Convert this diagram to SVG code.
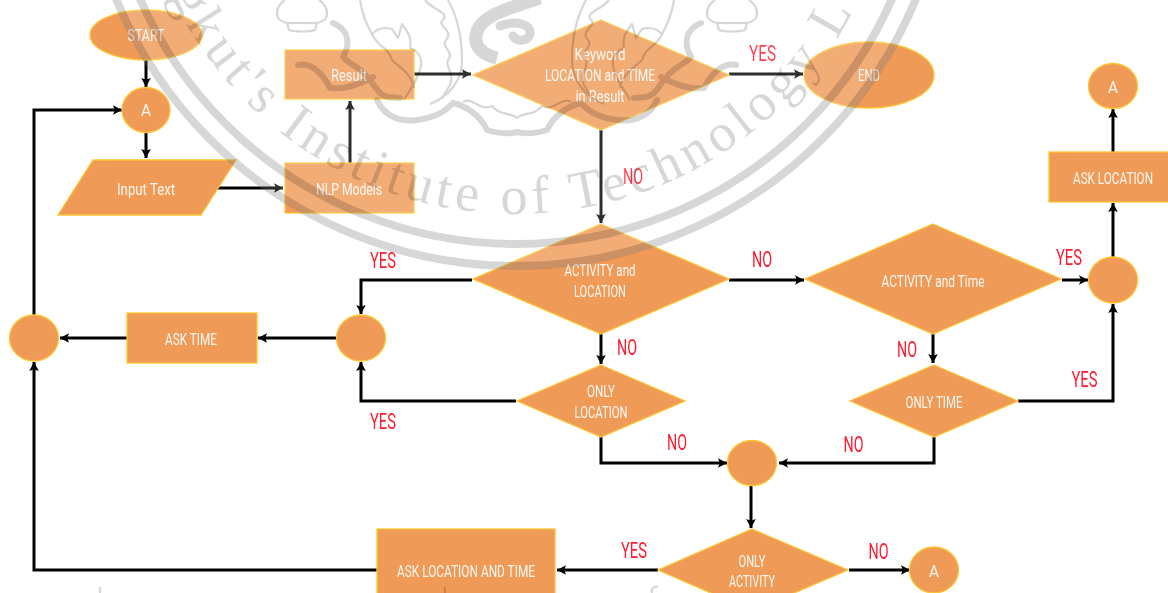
<svg xmlns="http://www.w3.org/2000/svg" width="1168" height="593" viewBox="0 0 1168 593">
<style>
.n{fill:#f09a58;stroke:#fcc531;stroke-width:1.3}
.t{font-family:"Roboto","Liberation Sans",sans-serif;font-size:16px;fill:#fff;fill-opacity:.93;text-anchor:middle}
.l{font-family:"Roboto","Liberation Sans",sans-serif;font-size:22.5px;fill:#ff1a2e;text-anchor:middle}
.c{fill:none;stroke:#000;stroke-width:3;marker-end:url(#a)}
.r{fill:none;stroke:#000;stroke-width:8}
.o{fill:none;stroke:#000;stroke-width:6;stroke-linecap:round;stroke-linejoin:round}
.h{fill:none;stroke:#000;stroke-width:2.2;stroke-linejoin:round}
</style>
<defs>
<marker id="a" markerUnits="userSpaceOnUse" markerWidth="12" markerHeight="12" refX="10" refY="6" orient="auto"><path d="M1 1.2L10 6L1 10.8L2.8 6Z" fill="#000"/></marker>
<path id="arc" d="M135 -167A381 381 0 0 0 897 -167"/>
<filter id="b" x="0" y="0" width="100%" height="100%"><feGaussianBlur stdDeviation=".45"/></filter>
<g id="half">
<path class="h" d="M285 0C279 4 277 9 277 14C277 19 282 22 287 23L289 30C296 32 310 32 315 30L317 23C322 22 327 19 327 14C327 9 325 4 319 0"/>
<path class="h" d="M287 23L317 23"/>
<path class="o" d="M298 65C310 62 322 72 330 88C345 90 360 84 373 77"/>
<path class="o" d="M333 23C350 30 350 45 343 57C350 65 362 68 368 78C376 86 378 95 388 97L400 98"/>
<path class="o" d="M377 100C385 118 402 122 417 120C435 118 445 112 453 103C466 106 480 115 487 130C500 134 510 134 517 132"/>
<path class="h" d="M360 0C362 12 366 24 372 34C376 30 382 26 392 29L398 38L402 24C408 32 412 38 410 48C420 52 425 60 418 75C414 86 408 92 404 100"/>
<path class="h" d="M372 34C378 48 388 46 392 60C400 68 412 74 414 88"/>
<path class="h" d="M425 0C432 10 450 12 443 20C436 26 455 30 446 40C440 46 455 52 448 60C445 68 455 72 450 85L442 98"/>
<path class="h" d="M448 0C458 18 462 40 462 60C462 80 450 96 430 104"/>
<path class="h" d="M463 102C472 96 480 112 492 106C500 116 510 112 517 118"/>
</g>
</defs>
<g filter="url(#b)">
<g id="connectors">
<path class="c" d="M146 60V87"/>
<path class="c" d="M146 132V158"/>
<path class="c" d="M34 315V110H122"/>
<path class="c" d="M218 188H283"/>
<path class="c" d="M350 163V101"/>
<path class="c" d="M414 74H471"/>
<path class="c" d="M729 74H803"/>
<path class="c" d="M601 130V223"/>
<path class="c" d="M729 280H804"/>
<path class="c" d="M1062 280H1088"/>
<path class="c" d="M1113 257V203"/>
<path class="c" d="M1113 152V109"/>
<path class="c" d="M1018 401H1113V304"/>
<path class="c" d="M933 334V363"/>
<path class="c" d="M934 437V463H779"/>
<path class="c" d="M601 437V463H727"/>
<path class="c" d="M601 334V364"/>
<path class="c" d="M472 280H361V314"/>
<path class="c" d="M516 401H361V362"/>
<path class="c" d="M337 338H258"/>
<path class="c" d="M127 338H60"/>
<path class="c" d="M377 570H34V362"/>
<path class="c" d="M658 570H557"/>
<path class="c" d="M751 485V528"/>
<path class="c" d="M849 570H910"/>
</g>
<g id="n-start"><ellipse class="n" cx="146" cy="35" rx="56" ry="25"/><text class="t" x="146" y="41" textLength="37" lengthAdjust="spacingAndGlyphs">START</text></g>
<g id="n-a1"><ellipse class="n" cx="146" cy="110" rx="24" ry="22.5"/><text class="t" x="146" y="116" textLength="10" lengthAdjust="spacingAndGlyphs">A</text></g>
<g id="n-input"><path class="n" d="M93 160H236L201 215H58Z"/><text class="t" x="146" y="195" textLength="58" lengthAdjust="spacingAndGlyphs">Input Text</text></g>
<g id="n-nlp"><rect class="n" x="285" y="163" width="129" height="50"/><text class="t" x="349" y="195" textLength="66" lengthAdjust="spacingAndGlyphs">NLP Models</text></g>
<g id="n-result"><rect class="n" x="285" y="50" width="129" height="49"/><text class="t" x="349" y="81" textLength="36" lengthAdjust="spacingAndGlyphs">Result</text></g>
<g id="n-keyword"><path class="n" d="M601 20L729 75L601 130L473 75Z"/><text class="t" x="600" y="60" textLength="51" lengthAdjust="spacingAndGlyphs">Keyword</text><text class="t" x="600" y="81" textLength="110" lengthAdjust="spacingAndGlyphs">LOCATION and TIME</text><text class="t" x="600" y="102" textLength="49" lengthAdjust="spacingAndGlyphs">in Result</text></g>
<g id="n-end"><ellipse class="n" cx="869" cy="75" rx="65" ry="33"/><text class="t" x="869" y="81" textLength="22" lengthAdjust="spacingAndGlyphs">END</text></g>
<g id="n-a2"><ellipse class="n" cx="1113" cy="86" rx="24.5" ry="22.5"/><text class="t" x="1113" y="93" textLength="10" lengthAdjust="spacingAndGlyphs">A</text></g>
<g id="n-asklocation"><rect class="n" x="1049" y="152" width="130" height="50"/><text class="t" x="1113" y="184" textLength="80" lengthAdjust="spacingAndGlyphs">ASK LOCATION</text></g>
<g id="n-activity-location"><path class="n" d="M601 224L729 279L601 334L473 279Z"/><text class="t" x="600" y="276" textLength="71" lengthAdjust="spacingAndGlyphs">ACTIVITY and</text><text class="t" x="600" y="297" textLength="52" lengthAdjust="spacingAndGlyphs">LOCATION</text></g>
<g id="n-activity-time"><path class="n" d="M933 224L1061 279L933 334L805 279Z"/><text class="t" x="933" y="287" textLength="103" lengthAdjust="spacingAndGlyphs">ACTIVITY and Time</text></g>
<g id="n-c-right"><ellipse class="n" cx="1113" cy="280" rx="24.5" ry="23"/></g>
<g id="n-only-location"><path class="n" d="M601 365L685 401L601 437L517 401Z"/><text class="t" x="601" y="397" textLength="28" lengthAdjust="spacingAndGlyphs">ONLY</text><text class="t" x="601" y="418" textLength="53" lengthAdjust="spacingAndGlyphs">LOCATION</text></g>
<g id="n-only-time"><path class="n" d="M934 365L1018 401L934 437L850 401Z"/><text class="t" x="934" y="408" textLength="57" lengthAdjust="spacingAndGlyphs">ONLY TIME</text></g>
<g id="n-c-midleft"><ellipse class="n" cx="361" cy="338" rx="24.5" ry="23"/></g>
<g id="n-asktime"><rect class="n" x="127" y="313" width="130" height="50"/><text class="t" x="191" y="345" textLength="52" lengthAdjust="spacingAndGlyphs">ASK TIME</text></g>
<g id="n-c-left"><ellipse class="n" cx="34" cy="338" rx="24.5" ry="23"/></g>
<g id="n-c-mid"><ellipse class="n" cx="752" cy="463" rx="24.5" ry="22.5"/></g>
<g id="n-only-activity"><path class="n" d="M752 529L848 570L752 611L658 570Z"/><text class="t" x="752" y="567" textLength="27" lengthAdjust="spacingAndGlyphs">ONLY</text><text class="t" x="752" y="587" textLength="46" lengthAdjust="spacingAndGlyphs">ACTIVITY</text></g>
<g id="n-a3"><ellipse class="n" cx="934" cy="570" rx="24.5" ry="23"/><text class="t" x="934" y="577" textLength="10" lengthAdjust="spacingAndGlyphs">A</text></g>
<g id="n-asklocationtime"><rect class="n" x="377" y="529" width="178" height="84"/><text class="t" x="466" y="577" textLength="138" lengthAdjust="spacingAndGlyphs">ASK LOCATION AND TIME</text></g>
<g id="labels">
<text class="l" x="762.500" y="61" textLength="27" lengthAdjust="spacingAndGlyphs">YES</text>
<text class="l" x="633" y="184" textLength="20" lengthAdjust="spacingAndGlyphs">NO</text>
<text class="l" x="383" y="268" textLength="26" lengthAdjust="spacingAndGlyphs">YES</text>
<text class="l" x="762" y="267" textLength="20" lengthAdjust="spacingAndGlyphs">NO</text>
<text class="l" x="1069" y="265" textLength="26" lengthAdjust="spacingAndGlyphs">YES</text>
<text class="l" x="627" y="355" textLength="20" lengthAdjust="spacingAndGlyphs">NO</text>
<text class="l" x="907" y="357" textLength="20" lengthAdjust="spacingAndGlyphs">NO</text>
<text class="l" x="1084.500" y="387" textLength="26" lengthAdjust="spacingAndGlyphs">YES</text>
<text class="l" x="383" y="429" textLength="26" lengthAdjust="spacingAndGlyphs">YES</text>
<text class="l" x="677" y="450" textLength="20" lengthAdjust="spacingAndGlyphs">NO</text>
<text class="l" x="853.500" y="452" textLength="20" lengthAdjust="spacingAndGlyphs">NO</text>
<text class="l" x="634" y="558" textLength="26" lengthAdjust="spacingAndGlyphs">YES</text>
<text class="l" x="878.500" y="559" textLength="20" lengthAdjust="spacingAndGlyphs">NO</text>
</g>
<g id="watermark">
<circle cx="516" cy="-167" r="437" fill="#fff" fill-opacity=".18"/>
<g opacity=".155">
<circle class="r" cx="516" cy="-167" r="433"/>
<circle class="r" cx="516" cy="-167" r="411"/>
<text font-family="'Liberation Serif',serif" font-size="54" letter-spacing="5" fill="#000"><textPath href="#arc" startOffset="167">gkut's Institute of Technology L</textPath></text>
<use href="#half"/>
<use href="#half" transform="translate(1034 0) scale(-1 1)"/>
<path class="o" style="stroke-width:13;stroke-linecap:butt" d="M540 -2C512 8 480 14 476 35C474 48 484 55 497 58"/>
<path class="o" style="stroke-width:9" d="M500 26C515 20 532 24 530 34C528 42 516 42 513 36"/>
<path class="h" d="M100 587V593M445 587V593"/>
<path class="h" d="M652 593C650 588 656 586 658 587"/>
</g>
</g>
</g>
</svg>
